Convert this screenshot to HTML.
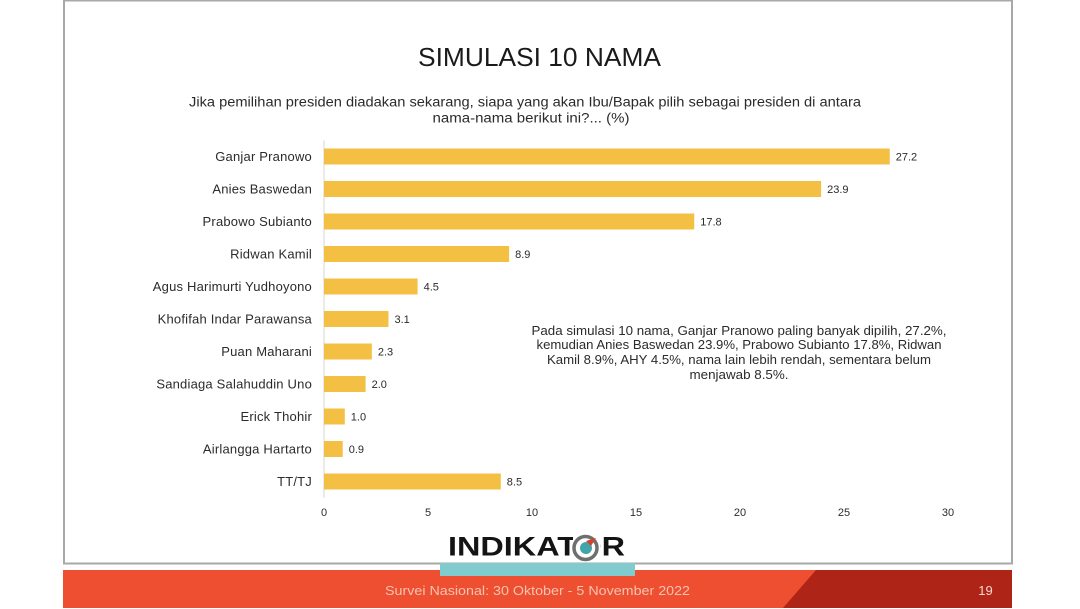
<!DOCTYPE html>
<html lang="id">
<head>
<meta charset="utf-8">
<title>Simulasi 10 Nama</title>
<style>
html,body{margin:0;padding:0;background:#fff;width:1080px;height:609px;overflow:hidden}
svg{display:block;font-family:"Liberation Sans",sans-serif}
text{fill:#2b2b2b}
</style>
</head>
<body>
<svg id="slide" width="1080" height="609" viewBox="0 0 1080 609" xmlns="http://www.w3.org/2000/svg">
  <rect x="64" y="0.5" width="948" height="563" fill="#fff" stroke="#a8a8a8" stroke-width="2"/>
  <text x="539.5" y="66" text-anchor="middle" font-size="26" textLength="243" lengthAdjust="spacingAndGlyphs" style="fill:#1a1a1a">SIMULASI 10 NAMA</text>
  <g font-size="13.5">
    <text x="525" y="106.5" text-anchor="middle" textLength="672" lengthAdjust="spacingAndGlyphs">Jika pemilihan presiden diadakan sekarang, siapa yang akan Ibu/Bapak pilih sebagai presiden di antara</text>
    <text x="531" y="122.5" text-anchor="middle" textLength="197" lengthAdjust="spacingAndGlyphs">nama-nama berikut ini?... (%)</text>
  </g>
  <g id="chart"></g>
  <g font-size="12.5">
    <text x="739" y="335" text-anchor="middle" textLength="415" lengthAdjust="spacingAndGlyphs">Pada simulasi 10 nama, Ganjar Pranowo paling banyak dipilih, 27.2%,</text>
    <text x="739" y="349" text-anchor="middle" textLength="405" lengthAdjust="spacingAndGlyphs">kemudian Anies Baswedan 23.9%, Prabowo Subianto 17.8%, Ridwan</text>
    <text x="739" y="364" text-anchor="middle" textLength="384" lengthAdjust="spacingAndGlyphs">Kamil 8.9%, AHY 4.5%, nama lain lebih rendah, sementara belum</text>
    <text x="739" y="379" text-anchor="middle" textLength="99" lengthAdjust="spacingAndGlyphs">menjawab 8.5%.</text>
  </g>
  <rect x="63" y="570" width="949" height="38" fill="#ee4f30"/>
  <polygon points="816,570 1012,570 1012,608 783,608" fill="#ae2416"/>
  <rect x="440" y="563" width="195" height="13" fill="#80cbcd"/>
  <text x="537.5" y="595" text-anchor="middle" font-size="13" textLength="305" lengthAdjust="spacingAndGlyphs" style="fill:#f6c3b0">Survei Nasional: 30 Oktober - 5 November 2022</text>
  <text x="985.5" y="595" text-anchor="middle" font-size="13" style="fill:#f7d9cf">19</text>
  <g>
    <text x="448" y="555.5" font-size="27" font-weight="bold" textLength="177" lengthAdjust="spacingAndGlyphs" style="fill:#141414">INDIKATOR</text>
    <rect x="573" y="534" width="27" height="27" fill="#fff"/>
    <circle cx="585.5" cy="548" r="11.5" fill="#fff" stroke="#6f6f6f" stroke-width="3.5"/>
    <circle cx="586" cy="548" r="6" fill="#43a4aa"/>
    <polygon points="596,538 586,541 591,546" fill="#d6402c"/>
  </g>
</svg>
<script>
const categories = ["Ganjar Pranowo","Anies Baswedan","Prabowo Subianto","Ridwan Kamil","Agus Harimurti Yudhoyono","Khofifah Indar Parawansa","Puan Maharani","Sandiaga Salahuddin Uno","Erick Thohir","Airlangga Hartarto","TT/TJ"];
const seriesValues = [27.2,23.9,17.8,8.9,4.5,3.1,2.3,2.0,1.0,0.9,8.5];
const valueLabels = ["27.2","23.9","17.8","8.9","4.5","3.1","2.3","2.0","1.0","0.9","8.5"];
const xTicks = [0,5,10,15,20,25,30];

const NS = "http://www.w3.org/2000/svg";
const chart = document.getElementById("chart");
function xScale(v){ return 324 + v * (948 - 324) / 30; }
function yBand(i){ return 156.5 + i * 32.5; }

function makeEl(tag, attrs, parent){
  const el = document.createElementNS(NS, tag);
  for (const k in attrs) el.setAttribute(k, attrs[k]);
  parent.appendChild(el);
  return el;
}

const axisLine = makeEl("line", {x1:xScale(0), x2:xScale(0), y1:yBand(0)-16, y2:yBand(categories.length-1)+16, stroke:"#d4d4d4", "stroke-width":1}, chart);



categories.forEach(function(name, i){
  const y = yBand(i);
  const label = makeEl("text", {x:312, y:y+4.5, "text-anchor":"end", "font-size":13, "letter-spacing":0.2}, chart);
  label.textContent = name;
  
  

  const bar = makeEl("rect", {x:xScale(0), y:y-8, width:xScale(seriesValues[i])-xScale(0), height:16, fill:"#f3c044"}, chart);
  
  

  const val = makeEl("text", {x:xScale(seriesValues[i])+6, y:y+4, "font-size":11}, chart);
  val.textContent = valueLabels[i];
  
  
});

xTicks.forEach(function(t){
  const tick = makeEl("text", {x:xScale(t), y:516, "text-anchor":"middle", "font-size":11}, chart);
  tick.textContent = String(t);
  
  
});
</script>
</body>
</html>
